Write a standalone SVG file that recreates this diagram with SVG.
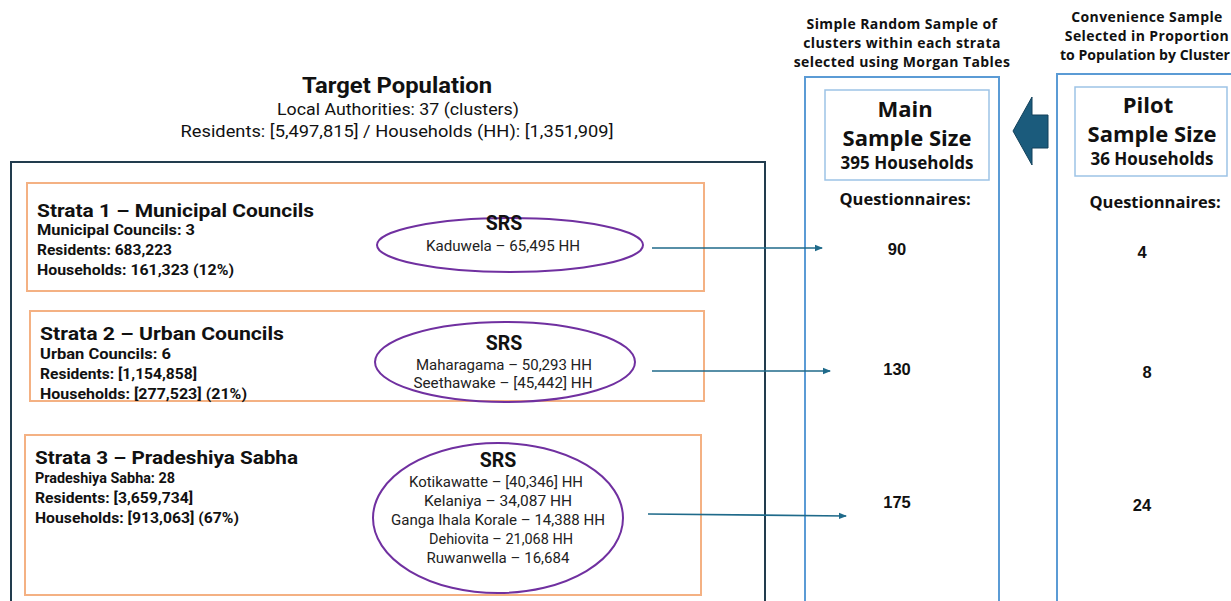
<svg xmlns="http://www.w3.org/2000/svg" width="1231" height="601" viewBox="0 0 1231 601">
<style>
.narrow{font-family:"Roboto","Liberation Sans",sans-serif;fill:#111}
.hd{font-family:"Open Sans","Liberation Sans",sans-serif;font-weight:bold;fill:#111}
.sm{font-size:14px;letter-spacing:0.4px}
.num{font-family:"Liberation Sans",Arial,sans-serif;font-weight:bold;fill:#111;font-size:16.5px;text-anchor:middle}
.strata{fill:none;stroke:#f4b183;stroke-width:2}
.ell{fill:none;stroke:#7030a0;stroke-width:2}
.col{fill:none;stroke:#5b9bd5;stroke-width:2}
.inner{fill:none;stroke:#9dc3e6;stroke-width:1.5}
.conn{stroke:#1f6a8a;stroke-width:1.6;fill:none}
.t1{font-size:19px;font-weight:bold}
.l1{font-size:14px;font-weight:bold}
.srs{font-size:19.5px;font-weight:bold;text-anchor:middle}
.sl{font-size:14.5px;text-anchor:middle;fill:#222}
</style>
<defs>
<marker id="ah" markerWidth="8" markerHeight="8" refX="7" refY="4" orient="auto" markerUnits="userSpaceOnUse">
<path d="M0,0.8 L8,4 L0,7.2 Z" fill="#1f6a8a"/>
</marker>
</defs>
<rect width="1231" height="601" fill="#fff"/>
<g id="target">
<text class="narrow" x="397" y="93" font-size="22" font-weight="bold" text-anchor="middle" textLength="190" lengthAdjust="spacingAndGlyphs">Target Population</text>
<text class="narrow" x="398" y="115" font-size="16.5" text-anchor="middle" textLength="242" lengthAdjust="spacingAndGlyphs">Local Authorities: 37 (clusters)</text>
<text class="narrow" x="397" y="137" font-size="16.5" text-anchor="middle" textLength="433" lengthAdjust="spacingAndGlyphs">Residents: [5,497,815] / Households (HH):  [1,351,909]</text>
<rect x="11" y="162" width="754" height="450" fill="none" stroke="#223c4e" stroke-width="2"/>
</g>
<g id="strata1">
<rect class="strata" x="27" y="183" width="677" height="108"/>
<text class="narrow t1" x="37" y="217" textLength="277" lengthAdjust="spacingAndGlyphs">Strata 1 – Municipal Councils</text>
<text class="narrow l1" x="37" y="235" textLength="158" lengthAdjust="spacingAndGlyphs">Municipal Councils: 3</text>
<text class="narrow l1" x="37" y="255" textLength="135" lengthAdjust="spacingAndGlyphs">Residents: 683,223</text>
<text class="narrow l1" x="37" y="275" textLength="197" lengthAdjust="spacingAndGlyphs">Households:  161,323 (12%)</text>
</g>
<g id="srs1">
<ellipse class="ell" cx="510" cy="245" rx="133" ry="27"/>
<text class="narrow srs" x="504" y="230">SRS</text>
<text class="narrow sl" x="503" y="251" textLength="154" lengthAdjust="spacingAndGlyphs">Kaduwela – 65,495 HH</text>
</g>
<g id="strata2">
<rect class="strata" x="30" y="311" width="674" height="90"/>
<text class="narrow t1" x="40" y="340" textLength="244" lengthAdjust="spacingAndGlyphs">Strata 2 –  Urban Councils</text>
<text class="narrow l1" x="40" y="359" textLength="131" lengthAdjust="spacingAndGlyphs">Urban Councils: 6</text>
<text class="narrow l1" x="40" y="379" textLength="157" lengthAdjust="spacingAndGlyphs">Residents: [1,154,858]</text>
<text class="narrow l1" x="40" y="399" textLength="207" lengthAdjust="spacingAndGlyphs">Households:  [277,523] (21%)</text>
</g>
<g id="srs2">
<ellipse class="ell" cx="505" cy="362" rx="130" ry="40"/>
<text class="narrow srs" x="504" y="350">SRS</text>
<text class="narrow sl" x="504" y="370" textLength="176" lengthAdjust="spacingAndGlyphs">Maharagama – 50,293 HH</text>
<text class="narrow sl" x="503" y="388" textLength="179" lengthAdjust="spacingAndGlyphs">Seethawake – [45,442] HH</text>
</g>
<g id="strata3">
<rect class="strata" x="25" y="435" width="676" height="160"/>
<text class="narrow t1" x="35" y="464" textLength="263" lengthAdjust="spacingAndGlyphs">Strata 3 – Pradeshiya Sabha</text>
<text class="narrow l1" x="35" y="483" textLength="140" lengthAdjust="spacingAndGlyphs">Pradeshiya Sabha: 28</text>
<text class="narrow l1" x="35" y="503" textLength="158" lengthAdjust="spacingAndGlyphs">Residents: [3,659,734]</text>
<text class="narrow l1" x="35" y="523" textLength="204" lengthAdjust="spacingAndGlyphs">Households: [913,063] (67%)</text>
</g>
<g id="srs3">
<ellipse class="ell" cx="498" cy="518" rx="125" ry="75"/>
<text class="narrow srs" x="498" y="467">SRS</text>
<text class="narrow sl" x="496" y="487" textLength="174" lengthAdjust="spacingAndGlyphs">Kotikawatte – [40,346] HH</text>
<text class="narrow sl" x="498" y="506" textLength="148" lengthAdjust="spacingAndGlyphs">Kelaniya  – 34,087 HH</text>
<text class="narrow sl" x="498" y="525" textLength="214" lengthAdjust="spacingAndGlyphs">Ganga Ihala Korale – 14,388 HH</text>
<text class="narrow sl" x="501" y="544" textLength="144" lengthAdjust="spacingAndGlyphs">Dehiovita – 21,068 HH</text>
<text class="narrow sl" x="498" y="563" textLength="143" lengthAdjust="spacingAndGlyphs">Ruwanwella – 16,684</text>
</g>
<g id="main">
<text class="hd sm" x="902" y="29" text-anchor="middle">Simple Random Sample of</text>
<text class="hd sm" x="902" y="48" text-anchor="middle">clusters within each strata</text>
<text class="hd sm" x="902" y="67" text-anchor="middle">selected using Morgan Tables</text>
<rect class="col" x="805" y="77" width="194" height="540"/>
<rect class="inner" x="825" y="90" width="164" height="90"/>
<text class="hd" x="905" y="117" font-size="22" text-anchor="middle">Main</text>
<text class="hd" x="907" y="146" font-size="22" text-anchor="middle">Sample Size</text>
<text class="hd" x="907" y="169" font-size="17" text-anchor="middle">395 Households</text>
<text class="hd" x="905" y="205" font-size="16.5" text-anchor="middle">Questionnaires:</text>
<text class="num" x="897" y="255">90</text>
<text class="num" x="897" y="375">130</text>
<text class="num" x="897" y="508">175</text>
</g>
<g id="pilot">
<text class="hd sm" x="1147" y="22" text-anchor="middle">Convenience Sample</text>
<text class="hd sm" x="1147" y="41" text-anchor="middle">Selected in Proportion</text>
<text class="hd" x="1060" y="60" font-size="14" textLength="170" lengthAdjust="spacingAndGlyphs">to Population by Cluster</text>
<rect class="col" x="1057" y="74" width="200" height="540"/>
<rect class="inner" x="1075" y="87" width="152" height="89"/>
<text class="hd" x="1148" y="113" font-size="22" text-anchor="middle">Pilot</text>
<text class="hd" x="1152" y="142" font-size="22" text-anchor="middle">Sample Size</text>
<text class="hd" x="1152" y="165" font-size="17" text-anchor="middle">36 Households</text>
<text class="hd" x="1155" y="208" font-size="16.5" text-anchor="middle">Questionnaires:</text>
<text class="num" x="1142" y="258">4</text>
<text class="num" x="1147" y="378">8</text>
<text class="num" x="1142" y="511">24</text>
</g>
<g id="connectors">
<line class="conn" x1="652" y1="248" x2="822" y2="248" marker-end="url(#ah)"/>
<line class="conn" x1="652" y1="371" x2="830" y2="371" marker-end="url(#ah)"/>
<line class="conn" x1="648" y1="514" x2="846" y2="516" marker-end="url(#ah)"/>
<path d="M1048,115 L1032,115 L1032,97 L1013,131 L1032,165 L1032,148 L1048,148 Z" fill="#1b5b7c" stroke="#12405a" stroke-width="1"/>
</g>
</svg>
